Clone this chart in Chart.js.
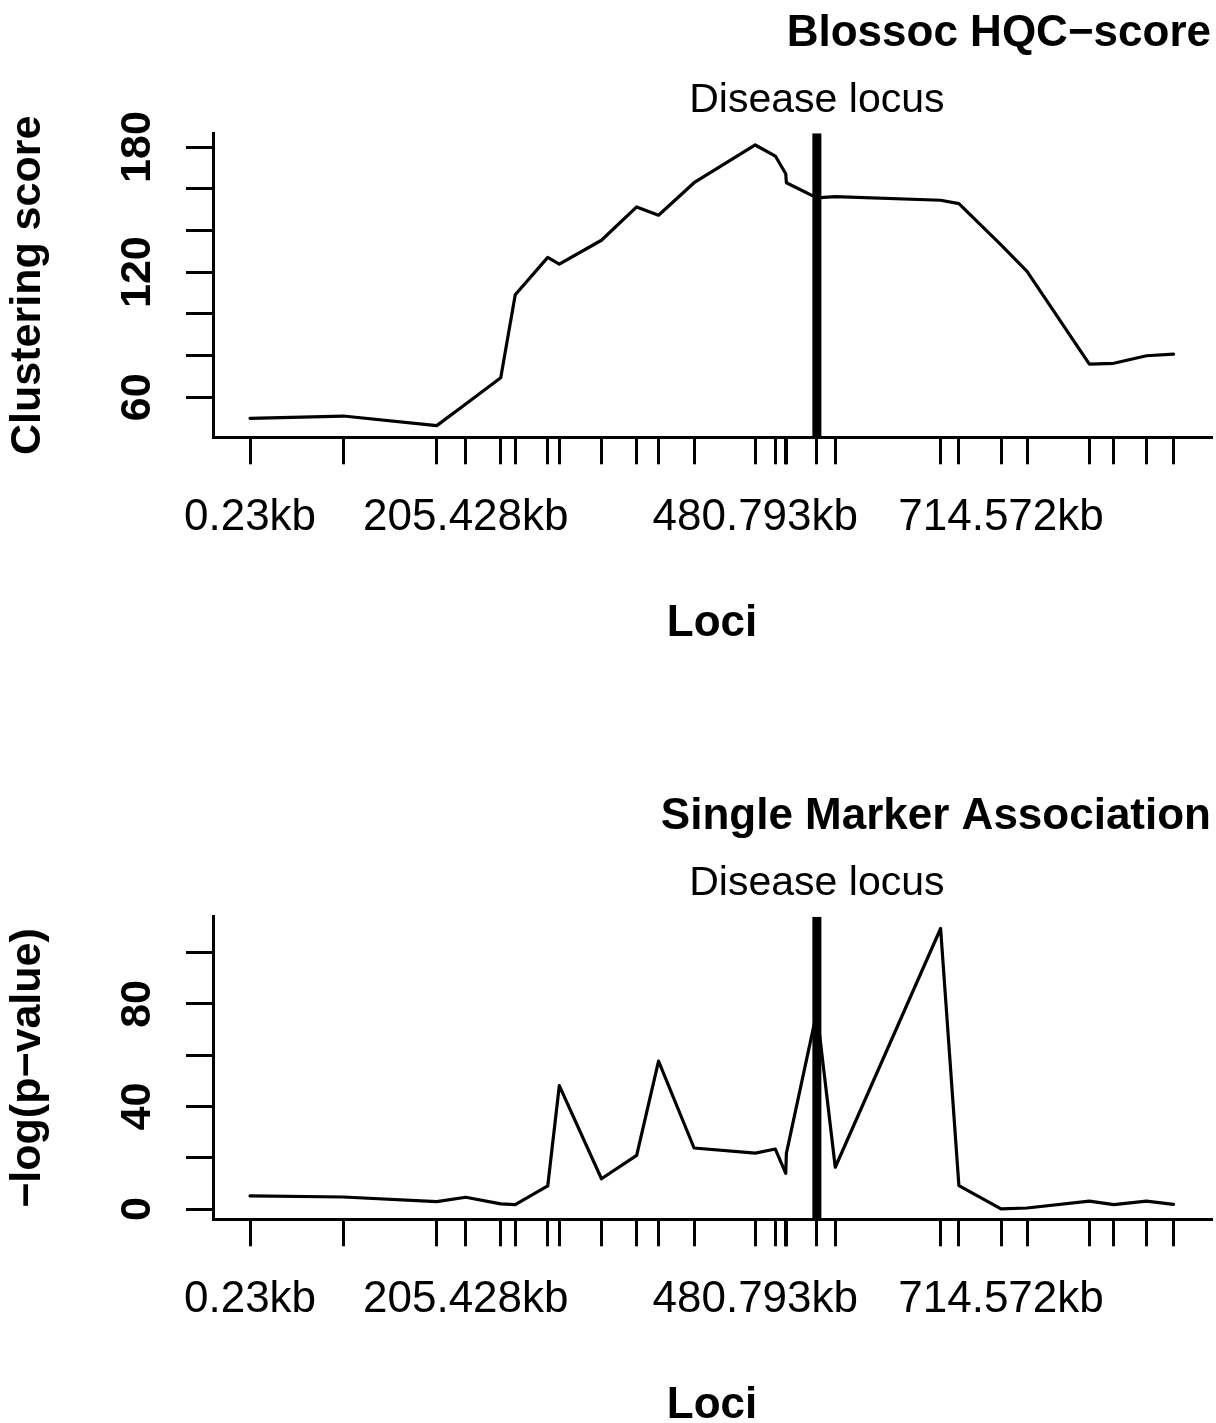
<!DOCTYPE html>
<html lang="en">
<head>
<meta charset="UTF-8">
<title>Blossoc HQC-score and Single Marker Association</title>
<script src="https://cdn.jsdelivr.net/npm/chart.js"></script>
<style>
  body { margin: 0; background: #fff; width: 1216px; height: 1423px; overflow: hidden; position: relative; }
  canvas { position: absolute; left: 0; }
  #hqcChart { top: 0; }
  #smaChart { top: 700px; }
</style>
</head>
<body>
<canvas id="hqcChart" width="1216" height="700"></canvas>
<canvas id="smaChart" width="1216" height="723"></canvas>
<script>
// marker positions along the region, in kb
const lociKb = [0.23, 88.9, 177.8, 205.428, 238.7, 252.5, 283.4, 294.4, 334.5, 368.0, 388.8, 422.6, 480.793,
  499.9, 509.8, 510.4, 539.4, 556.9, 657.1, 674.5, 714.572, 739.3, 798.6, 821.9, 852.9, 878.7];
// only the labels that fit get printed
const lociLabels = ['0.23kb', '', '', '205.428kb', '', '', '', '', '', '', '', '', '480.793kb',
  '', '', '', '', '', '', '', '714.572kb', '', '', '', '', ''];
const diseaseLocusKb = 539.4;

// Blossoc HQC clustering score per marker
const hqcScore = [49.9, 51.0, 46.4, 56.8, 69.4, 109.2, 127.1, 123.9, 135.3, 151.3, 147.3, 162.9, 181.0,
  175.7, 167.2, 162.9, 155.6, 156.2, 154.5, 152.9, 133.1, 120.4, 75.9, 76.3, 79.9, 80.7];
// single marker association, -log(p-value)
const assocScore = [5.1, 4.7, 2.9, 4.6, 2.0, 1.7, 9.0, 48.1, 11.8, 20.9, 57.7, 23.8, 21.8,
  23.4, 13.9, 21.7, 77.0, 16.3, 109.4, 9.1, 0.1, 0.4, 3.1, 1.7, 3.1, 1.8];

const hqcTicks = [60, 80, 100, 120, 140, 160, 180];
const hqcTickLabels = ['60', '', '', '120', '', '', '180'];
const assocTicks = [0, 20, 40, 60, 80, 100];
const assocTickLabels = ['0', '', '40', '', '80', ''];

const FONT = '"Liberation Sans", Arial, Helvetica, sans-serif';

// "Disease locus" text and the upright y tick labels (R style)
function panelLabels(tickValues, tickLabels) {
  return {
    id: 'panelLabels',
    afterDraw(chart) {
      const { ctx, chartArea, scales: { x, y } } = chart;
      ctx.save();
      ctx.fillStyle = '#000';
      ctx.textAlign = 'center';
      ctx.textBaseline = 'alphabetic';
      ctx.font = '41px ' + FONT;
      ctx.fillText('Disease locus', x.getPixelForValue(diseaseLocusKb), chartArea.top - 21.5);
      ctx.font = 'bold 43px ' + FONT;
      tickLabels.forEach((lab, i) => {
        if (!lab) return;
        ctx.save();
        ctx.translate(150, y.getPixelForValue(tickValues[i]));
        ctx.rotate(-Math.PI / 2);
        ctx.fillText(lab, 0, 0);
        ctx.restore();
      });
      ctx.restore();
    }
  };
}

function makePanel(id, p) {
  const axisGrid = { drawOnChartArea: false, color: '#000', lineWidth: 3, tickLength: 27 };
  const axisBorder = { color: '#000', width: 3 };
  return new Chart(document.getElementById(id), {
    type: 'line',
    data: {
      datasets: [
        {
          // disease locus bar
          data: [{ x: diseaseLocusKb, y: p.yMin }, { x: diseaseLocusKb, y: p.yMax }],
          borderColor: '#000', borderWidth: 9, pointRadius: 0, borderCapStyle: 'butt'
        },
        {
          data: lociKb.map((kb, i) => ({ x: kb, y: p.values[i] })),
          borderColor: '#000', borderWidth: 3.2, pointRadius: 0, tension: 0,
          borderJoinStyle: 'round', borderCapStyle: 'round'
        }
      ]
    },
    options: {
      responsive: false,
      animation: false,
      events: [],
      layout: { padding: { left: 0, right: 5, top: 0, bottom: 0 } },
      plugins: {
        legend: { display: false },
        tooltip: { enabled: false },
        title: {
          display: true, text: p.title, align: 'end', color: '#000',
          font: { family: FONT, size: 44, weight: 'bold', lineHeight: '44px' },
          padding: { top: p.titleTop, bottom: p.titleBottom }
        }
      },
      scales: {
        x: {
          type: 'linear', min: -35, max: 914.3, bounds: 'data',
          afterBuildTicks: s => { s.ticks = lociKb.map(v => ({ value: v })); },
          afterFit: s => { s.height = p.xAxisHeight; },
          ticks: {
            autoSkip: false, maxRotation: 0, minRotation: 0, padding: 32, color: '#000',
            font: { family: FONT, size: 44, lineHeight: '44px' },
            callback: (v, i) => lociLabels[i]
          },
          grid: axisGrid,
          border: axisBorder,
          title: {
            display: true, text: 'Loci', color: '#000',
            font: { family: FONT, size: 44, weight: 'bold', lineHeight: '30px' },
            padding: { top: 0, bottom: p.lociBottom }
          }
        },
        y: {
          type: 'linear', min: p.yMin, max: p.yMax, bounds: 'data',
          afterBuildTicks: s => { s.ticks = p.yTicks.map(v => ({ value: v })); },
          afterFit: s => { s.width = 213; },
          ticks: { autoSkip: false, callback: () => '' },
          grid: axisGrid,
          border: axisBorder,
          title: {
            display: true, text: p.yTitle, color: '#000',
            font: { family: FONT, size: 43, weight: 'bold', lineHeight: '44px' },
            padding: { top: 6.5, bottom: 0 }
          }
        }
      }
    },
    plugins: [panelLabels(p.yTicks, p.yLabels)]
  });
}

makePanel('hqcChart', {
  title: 'Blossoc HQC\u2212score', yTitle: 'Clustering score',
  values: hqcScore, yTicks: hqcTicks, yLabels: hqcTickLabels,
  yMin: 40.8, yMax: 186.6,
  titleTop: 11.5, titleBottom: 77.8, xAxisHeight: 262.7, lociBottom: 61
});

makePanel('smaChart', {
  title: 'Single Marker Association', yTitle: '\u2212log(p\u2212value)',
  values: assocScore, yTicks: assocTicks, yLabels: assocTickLabels,
  yMin: -4.0, yMax: 114.0,
  titleTop: 94.9, titleBottom: 77.8, xAxisHeight: 203.7, lociBottom: 2
});
</script>
</body>
</html>
